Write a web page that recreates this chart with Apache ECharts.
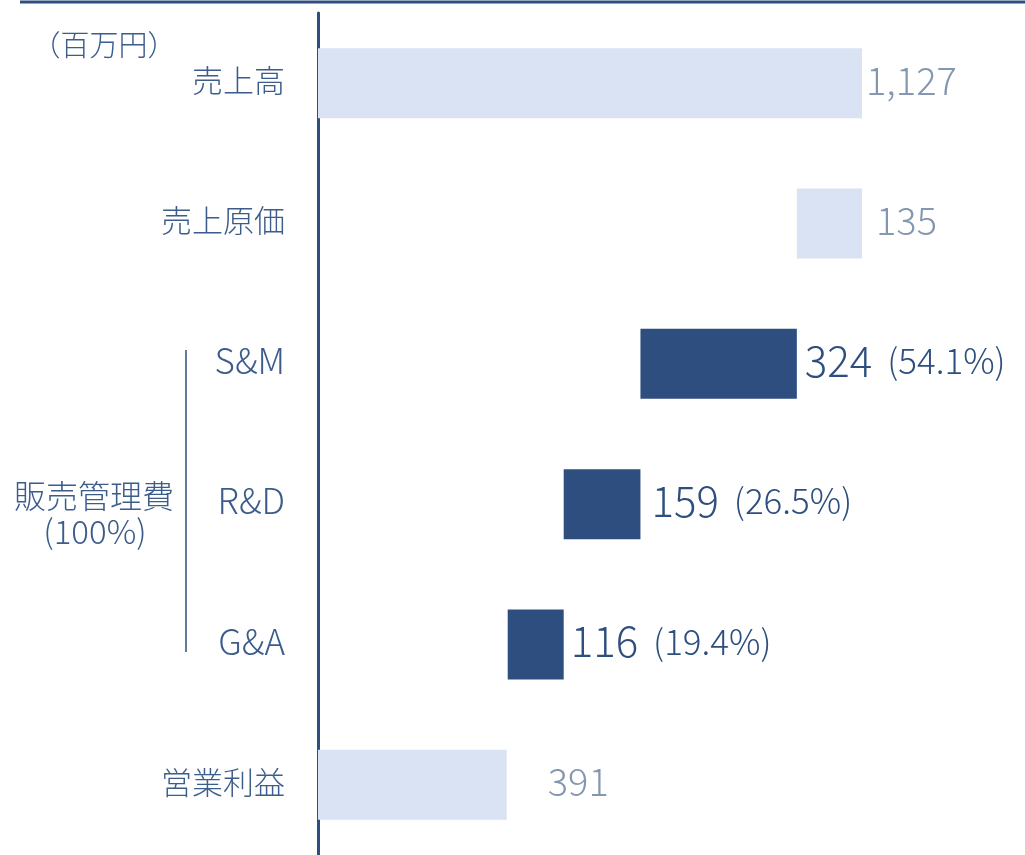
<!DOCTYPE html>
<html>
<head>
<meta charset="utf-8">
<script src="https://cdn.jsdelivr.net/npm/echarts@6/dist/echarts.min.js"></script>
<style>
  html, body { margin: 0; padding: 0; background: #fff; }
  #main { width: 1025px; height: 855px; }
</style>
</head>
<body>
<div id="main"></div>
<script>
  // data (百万円)
  var categories = ["売上高", "売上原価", "S&M", "R&D", "G&A", "営業利益"];
  var values = [1127, 135, 324, 159, 116, 391];
  var offsets = [0, 992, 668, 509, 393, 0];
  var shares = ["", "", "54.1%", "26.5%", "19.4%", ""];
  var valueLabels = ["1,127", "135", "324", "159", "116", "391"];
  var isSga = [false, false, true, true, true, false];

  var navy = "#2D4E7E";
  var light = "#DAE3F3";
  var gray = "#8497B0";
  var textColor = "#3C5C8C";
  var font = "'Noto Sans CJK JP', 'Noto Sans', sans-serif";
  var labelGap = [4, 14, 8, 11, 7, 41];

  var chart = echarts.init(document.getElementById("main"));

  var barData = values.map(function (v, i) {
    var item = {
      value: v,
      itemStyle: { color: isSga[i] ? navy : light },
      label: { distance: labelGap[i] }
    };
    if (isSga[i]) {
      item.label.formatter = "{a|" + valueLabels[i] + "}{b|(" + shares[i] + ")}";
    } else {
      item.label.formatter = "{g|" + valueLabels[i] + "}";
    }
    return item;
  });

  chart.setOption({
    animation: false,
    grid: { left: 318, right: 163, top: 13, bottom: -1, containLabel: false },
    xAxis: {
      type: "value",
      min: 0,
      max: 1127,
      show: false
    },
    yAxis: {
      type: "category",
      inverse: true,
      data: categories,
      axisTick: { show: false },
      axisLine: { lineStyle: { color: navy, width: 3 } },
      axisLabel: {
        margin: 33,
        color: textColor,
        fontFamily: font,
        fontWeight: 300,
        formatter: function (v) {
          return /^[A-Z&]+$/.test(v) ? "{l|" + v + "}" : "{j|" + v + "}";
        },
        rich: {
          j: { fontSize: 31, color: textColor, fontFamily: font, fontWeight: 300, padding: [0, 0, 6, 0] },
          l: { fontSize: 35, color: textColor, fontFamily: font, fontWeight: 300, padding: [0, 0, 6, 0] }
        }
      }
    },
    graphic: [
      { type: "line", shape: { x1: 20, y1: 2, x2: 1025, y2: 2 }, style: { stroke: navy, lineWidth: 3 } },
      { type: "line", shape: { x1: 186, y1: 350, x2: 186, y2: 652 }, style: { stroke: navy, lineWidth: 1.5 } },
      { type: "text", x: 104, y: 45, style: { text: "（百万円）", font: "300 29px " + font, fill: textColor, align: "center", verticalAlign: "middle" } },
      { type: "text", x: 94, y: 496, style: { text: "販売管理費", font: "300 32px " + font, fill: textColor, align: "center", verticalAlign: "middle" } },
      { type: "text", x: 95, y: 531, style: { text: "(100%)", font: "300 33px " + font, fill: textColor, align: "center", verticalAlign: "middle" } }
    ],
    series: [
      {
        type: "bar",
        stack: "w",
        silent: true,
        barWidth: 70,
        itemStyle: { color: "transparent" },
        data: offsets
      },
      {
        type: "bar",
        stack: "w",
        barWidth: 70,
        label: {
          show: true,
          position: "right",
          offset: [0, -3],
          fontFamily: font,
          rich: {
            a: { fontSize: 42, color: navy, fontFamily: font, fontWeight: 300 },
            b: { fontSize: 35, color: navy, fontFamily: font, fontWeight: 300, padding: [0, 0, 0, 15] },
            g: { fontSize: 38, color: gray, fontFamily: font, fontWeight: 300 }
          }
        },
        data: barData
      }
    ]
  });
</script>
</body>
</html>
